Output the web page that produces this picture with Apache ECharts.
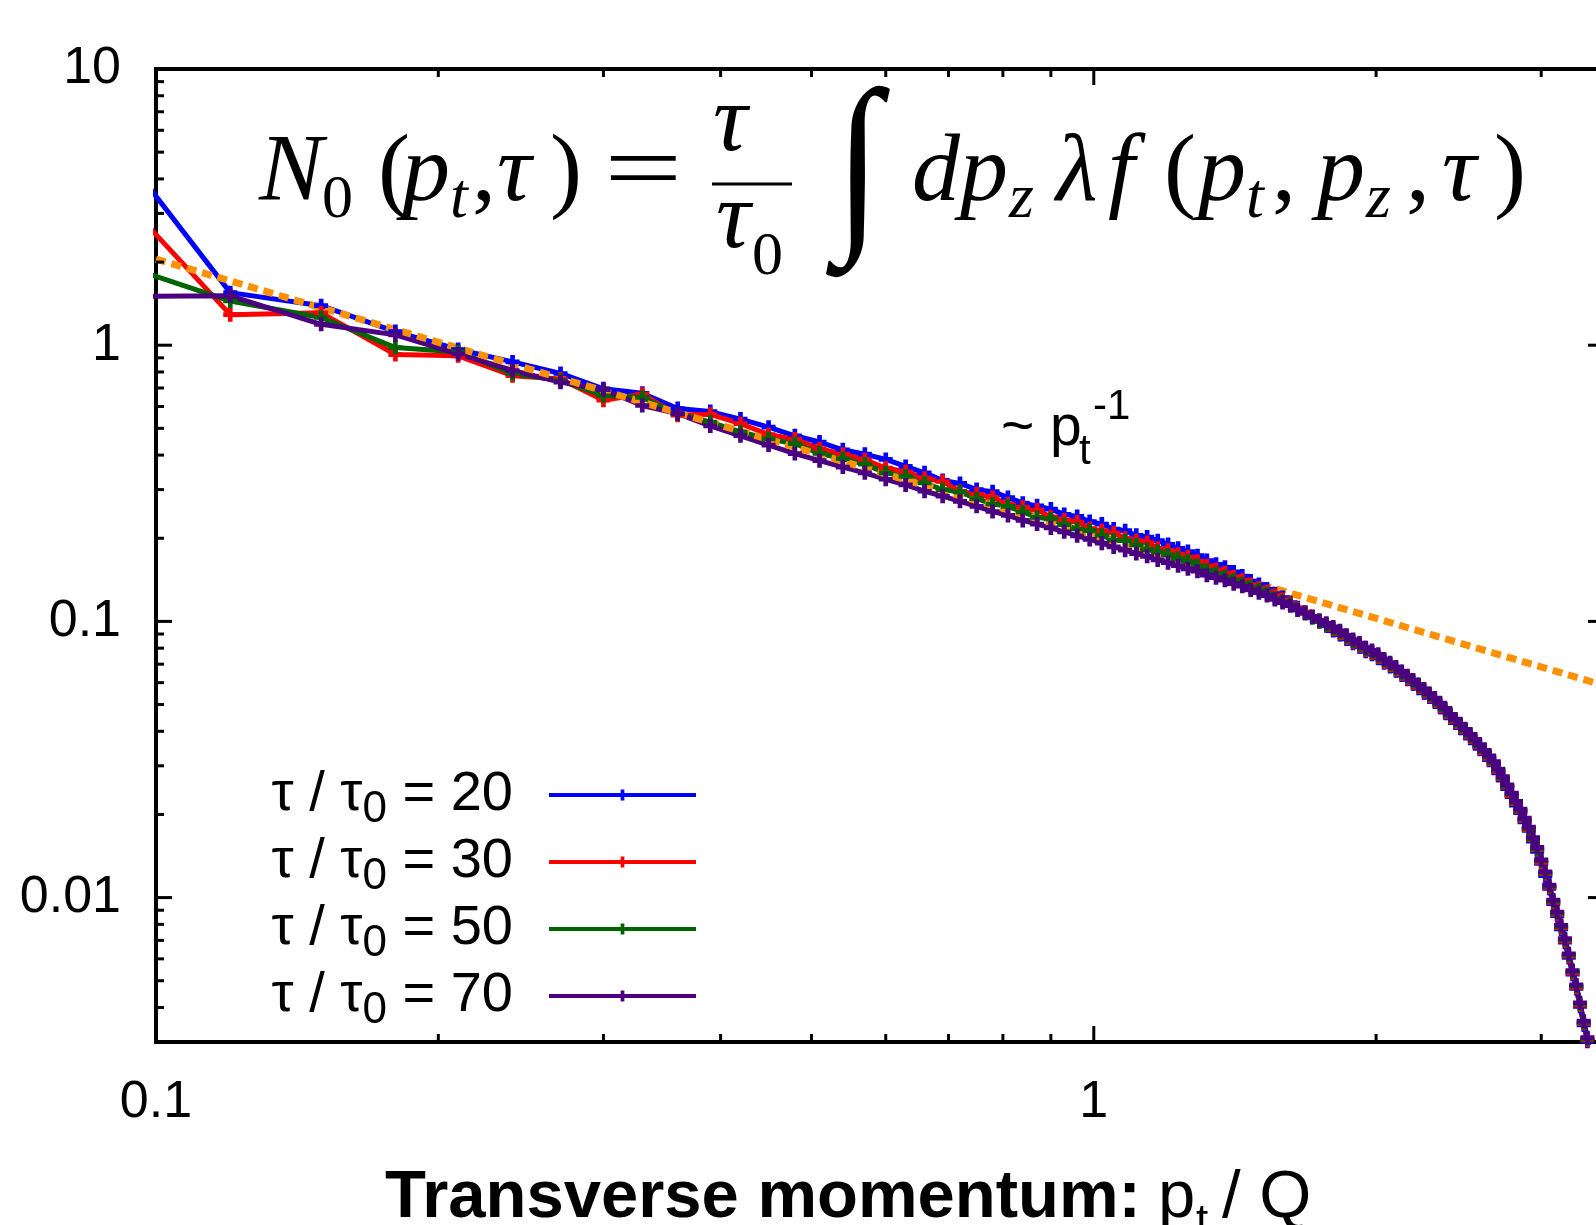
<!DOCTYPE html>
<html>
<head>
<meta charset="utf-8">
<title>N0(pt, tau)</title>
<script src="https://cdn.jsdelivr.net/npm/echarts@6.0.0/dist/echarts.min.js"></script>
<style>
  html, body { margin: 0; padding: 0; background: #fff; overflow: hidden; }
  #chart { width: 1612px; height: 1225px; }
</style>
</head>
<body>
<div id="chart"></div>
<script>
// transverse momentum grid p_t / Q
var pt = [0.09, 0.12, 0.15, 0.18, 0.21, 0.24, 0.27, 0.30, 0.33, 0.36, 0.39, 0.42, 0.45,
  0.48, 0.51, 0.54, 0.57, 0.60, 0.63, 0.66, 0.69, 0.72, 0.75, 0.78, 0.81, 0.84, 0.87, 0.90,
  0.93, 0.96, 0.99, 1.02, 1.05, 1.08, 1.11, 1.14, 1.17, 1.20, 1.23, 1.26, 1.29,
  1.32, 1.35, 1.38, 1.41, 1.44, 1.47, 1.50, 1.53, 1.56, 1.59, 1.62, 1.65, 1.68, 1.71, 1.74, 1.77,
  1.80, 1.83, 1.86, 1.89, 1.92, 1.95, 1.98, 2.01, 2.04, 2.07, 2.10, 2.13, 2.16, 2.19, 2.22, 2.25,
  2.28, 2.31, 2.34, 2.37, 2.40, 2.43, 2.46, 2.49, 2.52, 2.55, 2.58, 2.61, 2.64, 2.67, 2.70, 2.73,
  2.76, 2.79, 2.82, 2.85, 2.88, 2.91, 2.94, 2.97, 3.00, 3.03, 3.06, 3.09, 3.12, 3.15, 3.18, 3.21,
  3.24, 3.27, 3.30, 3.33, 3.36, 3.39];

// N0 for tau / tau0 = 20
var n20 = [5.5, 1.55, 1.39, 1.12, 0.965, 0.87, 0.79, 0.695, 0.67, 0.59, 0.575, 0.54, 0.505,
  0.470, 0.446, 0.418, 0.403, 0.386, 0.364, 0.345, 0.324, 0.316, 0.300, 0.295, 0.281, 0.268, 0.262, 0.255,
  0.244, 0.240, 0.230, 0.225, 0.216, 0.213, 0.205, 0.202, 0.196, 0.190, 0.184, 0.179, 0.173,
  0.166, 0.161, 0.157, 0.151, 0.146, 0.140, 0.136, 0.131, 0.126, 0.122, 0.117, 0.112, 0.108, 0.104, 0.100, 0.0964,
  0.0926, 0.0896, 0.0864, 0.0833, 0.0810, 0.0779, 0.0761, 0.0737, 0.0708, 0.0687, 0.0663, 0.0639, 0.0617, 0.0595, 0.0573, 0.0552,
  0.0532, 0.0512, 0.0491, 0.0469, 0.0447, 0.0430, 0.0412, 0.0395, 0.0378, 0.0363, 0.0347, 0.0331, 0.0316, 0.0302, 0.0283, 0.0266,
  0.0248, 0.0232, 0.0216, 0.0203, 0.0188, 0.0175, 0.0160, 0.0147, 0.0133, 0.0120, 0.0108, 0.0095, 0.00860, 0.00770, 0.00689, 0.00607,
  0.00528, 0.00469, 0.00404, 0.00346, 0.00302, 0.00258];

// tau / tau0 = 30
var n30 = [3.7, 1.29, 1.31, 0.925, 0.915, 0.775, 0.755, 0.632, 0.665, 0.558, 0.562, 0.52, 0.475,
  0.457, 0.422, 0.403, 0.385, 0.359, 0.348, 0.330, 0.321, 0.296, 0.289, 0.281, 0.266, 0.259, 0.253, 0.239,
  0.233, 0.229, 0.217, 0.213, 0.209, 0.200, 0.196, 0.193, 0.184, 0.181, 0.175, 0.171, 0.165,
  0.159, 0.154, 0.150, 0.145, 0.141, 0.136, 0.132, 0.128, 0.124, 0.120, 0.116, 0.111, 0.108, 0.104, 0.100, 0.0974,
  0.0936, 0.0906, 0.0873, 0.0842, 0.0818, 0.0787, 0.0769, 0.0745, 0.0715, 0.0694, 0.0669, 0.0646, 0.0623, 0.0601, 0.0579, 0.0558,
  0.0537, 0.0517, 0.0496, 0.0474, 0.0452, 0.0434, 0.0417, 0.0399, 0.0382, 0.0367, 0.0351, 0.0334, 0.0319, 0.0305, 0.0286, 0.0269,
  0.0251, 0.0234, 0.0219, 0.0205, 0.0190, 0.0176, 0.0162, 0.0149, 0.0134, 0.0122, 0.0109, 0.0096, 0.00869, 0.00778, 0.00696, 0.00613,
  0.00533, 0.00473, 0.00408, 0.00350, 0.00305, 0.00261];

// tau / tau0 = 50
var n50 = [2.0, 1.445, 1.26, 0.98, 0.945, 0.79, 0.745, 0.656, 0.647, 0.564, 0.527, 0.485, 0.458,
  0.440, 0.406, 0.388, 0.371, 0.345, 0.335, 0.317, 0.300, 0.294, 0.278, 0.266, 0.261, 0.249, 0.238, 0.235,
  0.224, 0.216, 0.213, 0.205, 0.197, 0.196, 0.189, 0.182, 0.179, 0.174, 0.169, 0.165, 0.159,
  0.153, 0.149, 0.145, 0.141, 0.137, 0.133, 0.130, 0.126, 0.121, 0.118, 0.115, 0.110, 0.107, 0.103, 0.100, 0.0974,
  0.0945, 0.0915, 0.0882, 0.0850, 0.0827, 0.0795, 0.0777, 0.0752, 0.0723, 0.0701, 0.0676, 0.0652, 0.0630, 0.0607, 0.0585, 0.0563,
  0.0543, 0.0523, 0.0501, 0.0479, 0.0456, 0.0439, 0.0421, 0.0403, 0.0386, 0.0370, 0.0354, 0.0338, 0.0323, 0.0308, 0.0289, 0.0271,
  0.0253, 0.0237, 0.0221, 0.0207, 0.0192, 0.0178, 0.0163, 0.0150, 0.0136, 0.0123, 0.0110, 0.0097, 0.00878, 0.00786, 0.00703, 0.00620,
  0.00539, 0.00478, 0.00412, 0.00353, 0.00308, 0.00263];

// tau / tau0 = 70
var n70 = [1.50, 1.51, 1.19, 1.09, 0.93, 0.81, 0.735, 0.69, 0.605, 0.565, 0.51, 0.47, 0.435,
  0.405, 0.382, 0.362, 0.345, 0.327, 0.312, 0.296, 0.284, 0.272, 0.261, 0.250, 0.242, 0.232, 0.225, 0.218,
  0.211, 0.204, 0.198, 0.192, 0.186, 0.181, 0.176, 0.172, 0.167, 0.163, 0.159, 0.155, 0.152,
  0.147, 0.144, 0.141, 0.137, 0.134, 0.130, 0.127, 0.124, 0.120, 0.117, 0.114, 0.110, 0.107, 0.104, 0.101, 0.0984,
  0.0955, 0.0924, 0.0891, 0.0859, 0.0835, 0.0803, 0.0785, 0.0760, 0.0730, 0.0708, 0.0683, 0.0659, 0.0636, 0.0613, 0.0591, 0.0569,
  0.0548, 0.0528, 0.0506, 0.0484, 0.0461, 0.0443, 0.0425, 0.0407, 0.0390, 0.0374, 0.0358, 0.0341, 0.0326, 0.0311, 0.0292, 0.0274,
  0.0256, 0.0239, 0.0223, 0.0209, 0.0194, 0.0180, 0.0165, 0.0152, 0.0137, 0.0124, 0.0111, 0.0098, 0.00887, 0.00794, 0.00710, 0.00626,
  0.00544, 0.00483, 0.00416, 0.00357, 0.00311, 0.00266];

var tauRatios = [20, 30, 50, 70];
var curves = [n20, n30, n50, n70];
var curveColors = ["#0000ff", "#ff0000", "#006400", "#4b0082"];

// the ~ pt^-1 guide line, end points
var powerLaw = [[0.1, 2.05], [3.5, 0.0586]];

// tick marks
var xMajorTicks = [0.1, 1];
var xMinorTicks = [0.2, 0.3, 0.4, 0.5, 0.6, 0.7, 0.8, 0.9, 2, 3];
var yMajorTicks = [0.01, 0.1, 1, 10];
var yMinorTicks = [0.004, 0.005, 0.006, 0.007, 0.008, 0.009,
  0.02, 0.03, 0.04, 0.05, 0.06, 0.07, 0.08, 0.09,
  0.2, 0.3, 0.4, 0.5, 0.6, 0.7, 0.8, 0.9,
  2, 3, 4, 5, 6, 7, 8, 9];

var plusSymbol = "path://M4,0h4v4h4v4h-4v4h-4v-4h-4v-4h4z";

var chart = echarts.init(document.getElementById("chart"));

var black = "#000";
var sans = "Liberation Sans";
var serif = "Liberation Serif";

function decadeLabel(v) {
  var l = Math.log(v) / Math.LN10;
  if (Math.abs(l - Math.round(l)) > 1e-6) return "";
  return String(+Math.pow(10, Math.round(l)).toPrecision(1));
}

// one glyph of text, placed by left edge and baseline
function glyph(x, base, text, size, italic, family, bold) {
  var k = family === sans ? 0.30 : 0.29;
  return {
    type: "text",
    x: x,
    y: base - k * size,
    silent: true,
    style: {
      text: text,
      fill: black,
      fontSize: size,
      fontFamily: family || serif,
      fontStyle: italic ? "italic" : "normal",
      fontWeight: bold ? "bold" : "normal",
      align: "left",
      verticalAlign: "middle"
    }
  };
}

var tickData = [];
xMajorTicks.forEach(function (v) { tickData.push([v, 1, 16, 0]); });
xMinorTicks.forEach(function (v) { tickData.push([v, 1, 8, 0]); });
yMajorTicks.forEach(function (v) { tickData.push([1, v, 16, 1]); });
yMinorTicks.forEach(function (v) { tickData.push([1, v, 8, 1]); });

var series = [];
curves.forEach(function (ys, i) {
  series.push({
    name: "τ / τ0 = " + tauRatios[i],
    type: "line",
    data: pt.map(function (x, j) { return [x, ys[j]]; }),
    symbol: plusSymbol,
    symbolSize: 14,
    showAllSymbol: true,
    clip: true,
    color: curveColors[i],
    itemStyle: { color: curveColors[i], borderWidth: 0 },
    lineStyle: { color: curveColors[i], width: 5 },
    emphasis: { disabled: true }
  });
});
series.push({
  name: "power law",
  type: "line",
  data: powerLaw,
  showSymbol: false,
  clip: true,
  lineStyle: { color: "#ff9000", width: 7, type: [10, 6], cap: "butt" },
  emphasis: { disabled: true },
  z: 3
});
series.push({
  type: "custom",
  data: tickData,
  silent: true,
  z: 5,
  renderItem: function (params, api) {
    var cs = params.coordSys;
    var len = api.value(2);
    var style = { stroke: black, lineWidth: 3 };
    if (api.value(3) === 0) {
      var px = api.coord([api.value(0), 1])[0];
      return {
        type: "group",
        children: [
          { type: "line", shape: { x1: px, y1: cs.y + cs.height, x2: px, y2: cs.y + cs.height - len }, style: style },
          { type: "line", shape: { x1: px, y1: cs.y, x2: px, y2: cs.y + len }, style: style }
        ]
      };
    }
    var py = api.coord([1, api.value(1)])[1];
    return {
      type: "group",
      children: [
        { type: "line", shape: { x1: cs.x, y1: py, x2: cs.x + len, y2: py }, style: style },
        { type: "line", shape: { x1: cs.x + cs.width, y1: py, x2: cs.x + cs.width - len, y2: py }, style: style }
      ]
    };
  }
});

var it = true;
var integral = {
  type: "text",
  x: 858,
  y: 174,
  scaleX: 1.3,
  scaleY: 1.5,
  silent: true,
  style: {
    text: "∫",
    fill: black,
    fontSize: 130,
    fontFamily: serif,
    fontStyle: "italic",
    align: "center",
    verticalAlign: "middle"
  }
};
var equals = glyph(604, 203, "=", 96);
equals.scaleX = 1.45;

var texts = [
  // N_0(p_t, tau) = tau/tau_0 \int dp_z lambda f(p_t, p_z, tau)
  glyph(259, 203, "N", 96, it),
  glyph(322, 219, "0", 62),
  glyph(378, 203, "(", 96),
  glyph(402, 203, "p", 96, it),
  glyph(450, 219, "t", 64, it),
  glyph(472, 203, ",", 96),
  glyph(497, 203, "τ", 96, it),
  glyph(550, 203, ")", 96),
  equals,
  glyph(713, 153, "τ", 96, it),
  glyph(716, 250, "τ", 96, it),
  glyph(752, 276, "0", 62),
  integral,
  glyph(912, 203, "d", 96, it),
  glyph(960, 203, "p", 96, it),
  glyph(1009, 219, "z", 64, it),
  glyph(1056, 203, "λ", 96, it),
  glyph(1108, 203, "f", 96, it),
  glyph(1164, 203, "(", 96),
  glyph(1198, 203, "p", 96, it),
  glyph(1246, 219, "t", 64, it),
  glyph(1272, 203, ",", 96),
  glyph(1317, 203, "p", 96, it),
  glyph(1366, 219, "z", 64, it),
  glyph(1406, 203, ",", 96),
  glyph(1442, 203, "τ", 96, it),
  glyph(1494, 203, ")", 96),
  { type: "line", silent: true, shape: { x1: 712, y1: 184, x2: 792, y2: 184 }, style: { stroke: black, lineWidth: 3 } },
  // ~ p_t^-1
  glyph(1001, 446, "~ p", 57, false, sans),
  glyph(1079, 465, "t", 42, false, sans),
  glyph(1093, 420, "-1", 42, false, sans),
  // x axis title
  glyph(385, 1219, "Transverse momentum:", 67, false, sans, true),
  glyph(1158, 1219, "p", 67, false, sans),
  glyph(1196, 1236, "t", 44, false, sans),
  glyph(1222, 1219, "/ Q", 67, false, sans)
];

var option = {
  animation: false,
  backgroundColor: "#fff",
  grid: {
    left: 156,
    right: 8,
    top: 69,
    bottom: 183,
    show: true,
    borderColor: black,
    borderWidth: 4,
    backgroundColor: "transparent"
  },
  xAxis: {
    type: "log",
    logBase: 10,
    min: 0.1,
    max: 3.5,
    axisLine: { show: false },
    axisTick: { show: false },
    splitLine: { show: false },
    minorTick: { show: false },
    axisLabel: {
      formatter: decadeLabel,
      color: black,
      fontFamily: sans,
      fontSize: 52,
      margin: 35,
      showMinLabel: true,
      showMaxLabel: true
    }
  },
  yAxis: {
    type: "log",
    logBase: 10,
    min: 0.003,
    max: 10,
    axisLine: { show: false },
    axisTick: { show: false },
    splitLine: { show: false },
    minorTick: { show: false },
    axisLabel: {
      formatter: decadeLabel,
      color: black,
      fontFamily: sans,
      fontSize: 52,
      margin: 35,
      showMinLabel: true,
      showMaxLabel: true
    }
  },
  legend: {
    data: tauRatios.map(function (r) { return "τ / τ0 = " + r; }),
    orient: "vertical",
    align: "right",
    right: 1612 - 698,
    top: 767,
    padding: 0,
    itemGap: 2,
    itemWidth: 147,
    itemHeight: 14,
    selectedMode: false,
    lineStyle: { width: 4 },
    formatter: function (name) {
      var r = name.split("= ")[1];
      return "{m|τ / τ}{s|0}{m| = " + r + "}";
    },
    textStyle: {
      color: black,
      fontFamily: sans,
      padding: [18, 31, 0, 0],
      rich: {
        m: { fontSize: 56, lineHeight: 56, padding: [0, 0, 9, 0], verticalAlign: "bottom", fontFamily: sans, color: black },
        s: { fontSize: 44, lineHeight: 35, verticalAlign: "bottom", fontFamily: sans, color: black }
      }
    }
  },
  graphic: texts,
  series: series
};

chart.setOption(option);
</script>
</body>
</html>
